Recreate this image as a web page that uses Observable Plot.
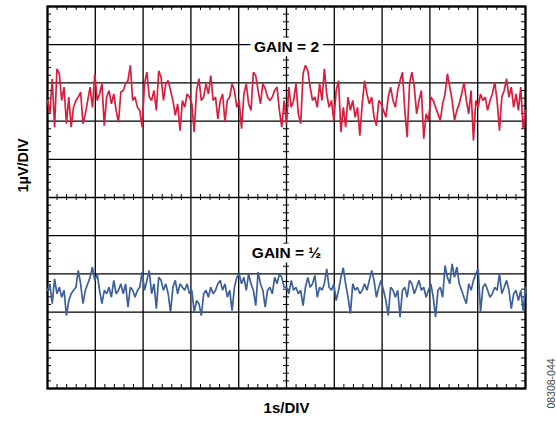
<!DOCTYPE html>
<html>
<head>
<meta charset="utf-8">
<script src="https://cdn.jsdelivr.net/npm/d3@7"></script>
<script src="https://cdn.jsdelivr.net/npm/@observablehq/plot@0.6"></script>
<style>
  html, body { margin: 0; padding: 0; background: #fff; }
  #chart svg { display: block; }
</style>
</head>
<body>
<div id="chart"></div>
<script>
// Time axis: 1 s per division, 10 divisions; vertical: 1 µV per division, 10 divisions
const xTicks = [0, 1, 2, 3, 4, 5, 6, 7, 8, 9, 10];
const yTicks = [-5, -4, -3, -2, -1, 0, 1, 2, 3, 4, 5];
const minorX = d3.range(0, 50).map(i => i / 5).filter(v => v % 1 !== 0);
const minorY = d3.range(-25, 25).map(i => i / 5).filter(v => v % 1 !== 0);

const seriesNames = ["GAIN = 2", "GAIN = ½"];
const xLabel = "1s/DIV";
const yLabel = "1µV/DIV";
const figureId = "08308-044";

const gain2 = [
  2.54,2.19,3.11,1.84,3.37,3.24,2.54,2.89,1.93,2.63,1.84,2.36,2.54,2.63,2.76,1.93,2.19,2.54,2.89,2.36,
  3.24,2.54,2.71,2.98,1.88,2.63,2.80,2.45,2.71,2.28,1.97,2.76,2.80,2.98,3.06,3.46,2.54,2.63,2.36,2.28,
  1.84,2.98,3.28,2.63,2.54,2.80,2.28,3.32,3.15,2.54,2.98,3.06,2.80,2.54,2.15,2.45,1.75,2.54,2.36,2.71,
  2.63,2.45,1.71,2.80,3.11,2.54,2.63,2.98,2.71,3.19,2.54,2.63,2.06,2.54,2.71,1.97,2.54,2.63,2.98,2.80,
  2.36,2.54,1.80,2.71,2.98,2.45,2.28,3.28,3.19,2.80,2.45,2.98,2.85,2.63,2.54,2.63,2.80,2.89,2.28,1.84,
  2.54,1.93,2.89,2.36,2.54,2.98,2.19,1.93,3.24,3.46,3.32,2.89,2.54,2.63,2.36,2.98,2.54,3.37,2.71,2.36,
  2.54,2.02,2.80,3.06,1.71,2.36,1.84,2.63,2.28,2.54,2.10,2.36,1.62,2.45,3.06,2.71,2.45,2.63,2.10,1.88,
  2.54,2.45,2.28,2.10,2.63,2.89,2.54,2.36,2.80,3.06,3.28,2.28,1.58,2.98,3.28,2.89,2.19,2.54,2.80,1.54,
  2.19,2.02,2.63,2.54,2.36,2.19,2.02,2.45,2.71,3.24,2.89,2.54,2.02,2.28,2.45,2.71,3.02,2.54,2.19,2.80,
  1.49,2.54,2.36,2.71,2.54,2.63,2.28,2.54,2.71,3.02,2.54,1.75,2.63,2.80,3.11,2.63,2.89,2.36,2.71,2.28,
  2.89,1.80,2.28
];

const gainHalf = [
  -2.43,-2.26,-2.78,-2.13,-2.52,-2.35,-2.61,-2.43,-3.09,-2.70,-2.52,-2.43,-2.35,-1.91,-2.26,-2.78,-2.43,-2.26,-2.09,-1.82,
  -2.17,-2.00,-2.43,-2.78,-2.43,-2.52,-2.35,-2.61,-2.17,-2.52,-2.43,-2.26,-2.52,-2.26,-2.87,-2.35,-2.43,-2.61,-2.43,-2.35,
  -1.95,-2.43,-2.17,-1.91,-2.52,-2.26,-2.91,-2.09,-2.17,-2.43,-2.26,-2.52,-3.00,-2.35,-2.17,-2.52,-2.26,-2.35,-2.43,-2.26,
  -2.52,-2.43,-3.00,-2.70,-2.78,-3.09,-2.52,-2.43,-2.61,-2.35,-2.52,-2.43,-2.26,-2.17,-2.43,-2.26,-2.61,-2.43,-2.96,-2.35,
  -2.09,-2.00,-2.26,-2.09,-2.43,-2.00,-2.26,-2.43,-2.83,-1.95,-2.26,-2.43,-2.87,-2.43,-2.35,-2.52,-2.09,-2.26,-2.00,-2.09,
  -2.35,
  -2.35,-2.52,-2.17,-2.43,-2.35,-2.52,-2.43,-2.83,-2.35,-2.09,-2.35,-2.26,-2.04,-2.61,-2.35,-2.43,-2.26,-1.87,-2.35,-2.43,
  -2.26,-2.70,-2.43,-2.09,-1.84,-2.26,-2.61,-3.04,-2.26,-2.43,-2.35,-2.52,-2.43,-2.26,-2.43,-2.17,-1.91,-2.17,-2.61,-2.35,
  -2.17,-2.43,-2.70,-3.09,-2.35,-2.43,-2.61,-2.43,-3.13,-2.43,-2.35,-2.61,-2.17,-2.26,-2.52,-2.35,-2.17,-2.43,-2.35,-2.61,
  -2.43,-2.26,-2.61,-3.13,-2.43,-2.35,-2.61,-1.78,-2.09,-2.26,-1.74,-2.09,-1.82,-2.26,-2.43,-2.61,-2.78,-2.26,-2.43,-2.17,
  -2.00,-1.87,-3.00,-2.35,-2.26,-2.43,-2.61,-2.52,-2.35,-2.43,-2.00,-2.52,-2.35,-2.17,-2.43,-2.91,-2.52,-2.43,-2.70,-2.43,
  -2.96,-2.35
];

const colors = ["#d81e3e", "#3d5f9c"];
const font = "'Liberation Sans', Arial, Helvetica, sans-serif";

const timeOf = (arr) => (d, i) => (i * 10) / (arr.length - 1);

const chart = Plot.plot({
  width: 556,
  height: 421,
  marginLeft: 47,
  marginRight: 31,
  marginTop: 6,
  marginBottom: 33,
  style: { fontFamily: font, background: "#fff", overflow: "visible" },
  x: { domain: [0, 10], axis: null },
  y: { domain: [-5, 5], axis: null },
  marks: [
    // major graticule
    Plot.ruleX(xTicks, { stroke: "#000", strokeWidth: 1.3 }),
    Plot.ruleY(yTicks, { stroke: "#000", strokeWidth: 1.3 }),
    // minor ticks on center cross (both sides)
    Plot.ruleX(minorX, { x: d => d, y1: 0, y2: 0, insetTop: -3, insetBottom: -3, stroke: "#000", strokeWidth: 1 }),
    Plot.ruleY(minorY, { y: d => d, x1: 5, x2: 5, insetLeft: -3, insetRight: -3, stroke: "#000", strokeWidth: 1 }),
    // minor ticks on the frame (inward)
    Plot.ruleX(minorX, { x: d => d, y1: -5, y2: -5, insetTop: -4, stroke: "#000", strokeWidth: 1 }),
    Plot.ruleX(minorX, { x: d => d, y1: 5, y2: 5, insetBottom: -4, stroke: "#000", strokeWidth: 1 }),
    Plot.ruleY(minorY, { y: d => d, x1: 0, x2: 0, insetRight: -4, stroke: "#000", strokeWidth: 1 }),
    Plot.ruleY(minorY, { y: d => d, x1: 10, x2: 10, insetLeft: -4, stroke: "#000", strokeWidth: 1 }),
    Plot.frame({ stroke: "#000", strokeWidth: 2.2 }),
    // traces
    Plot.lineY(gain2, { x: timeOf(gain2), y: d => d, stroke: colors[0], strokeWidth: 1.7, strokeLinejoin: "miter" }),
    Plot.lineY(gainHalf, { x: timeOf(gainHalf), y: d => d, stroke: colors[1], strokeWidth: 1.7, strokeLinejoin: "miter" }),
    // series labels with white halo
    Plot.text([seriesNames[0]], { x: 5, y: 3.93, text: d => d, fontSize: 15.5, fontWeight: "bold", fill: "#000",
      stroke: "#fff", strokeWidth: 9, textAnchor: "middle", lineAnchor: "middle" }),
    Plot.text([seriesNames[1]], { x: 5, y: -1.45, text: d => d, fontSize: 15.5, fontWeight: "bold", fill: "#000",
      stroke: "#fff", strokeWidth: 9, textAnchor: "middle", lineAnchor: "middle" }),
    // axis titles
    Plot.text([xLabel], { frameAnchor: "bottom", dy: 24, text: d => d, fontSize: 15, fontWeight: "bold",
      lineAnchor: "bottom", fill: "#000" }),
    Plot.text([yLabel], { frameAnchor: "left", dx: -24, dy: -5, rotate: -90, text: d => d, fontSize: 14.5,
      fontWeight: "bold", lineAnchor: "middle", fill: "#000" }),
    Plot.text([figureId], { frameAnchor: "bottom-right", dx: 26.5, dy: -5, rotate: -90, text: d => d,
      fontSize: 10.5, textAnchor: "middle", lineAnchor: "middle", fill: "#444" })
  ]
});

document.getElementById("chart").appendChild(chart);
</script>
</body>
</html>
